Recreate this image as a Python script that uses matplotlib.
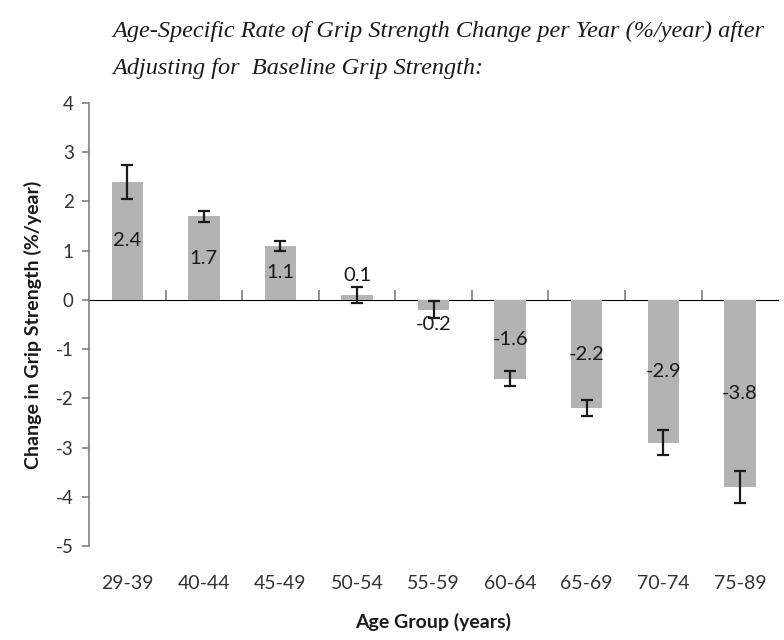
import numpy as np
import matplotlib.pyplot as plt

# age groups and yearly change in grip strength (%/year) with error bar half-widths
age_groups = ['29-39', '40-44', '45-49', '50-54', '55-59', '60-64', '65-69', '70-74', '75-89']
change = [2.4, 1.7, 1.1, 0.1, -0.2, -1.6, -2.2, -2.9, -3.8]
err = [0.35, 0.11, 0.10, 0.16, 0.17, 0.16, 0.16, 0.25, 0.32]

title = ('Age-Specific Rate of Grip Strength Change per Year (%/year) after\n'
         'Adjusting for  Baseline Grip Strength:')

plt.rcParams['axes.unicode_minus'] = False
sans = ['Lato', 'DejaVu Sans']
txt_col = '#333333'
axis_col = '#808080'

fig = plt.figure(figsize=(7.84, 6.4), dpi=100)
ax = fig.add_axes([0.1135, 0.147, 0.879, 0.692])

x = np.arange(len(age_groups))
ax.bar(x, change, width=0.41, color='#b3b3b3', zorder=2)
ax.errorbar(x, change, yerr=err, fmt='none', ecolor='#1a1a1a',
            elinewidth=1.6, capsize=4.5, capthick=1.6, zorder=3)

# value labels sit at mid-bar, pushed out a bit for the short bars
for xi, v in zip(x, change):
    ypos = np.sign(v) * max(abs(v) / 2, 0.5)
    ax.text(xi, ypos, f'{v:.1f}', ha='center', va='center',
            fontsize=14.5, family=sans, color='#1a1a1a', zorder=4)

ax.set_xlim(-0.5, len(age_groups) - 0.5)
ax.set_ylim(-5, 4)
ax.set_yticks(range(-5, 5))
ax.tick_params(axis='y', labelsize=13.5, labelcolor=txt_col, color=axis_col,
               length=5, width=1.2, pad=6)
for lab in ax.get_yticklabels():
    lab.set_family(sans)

ax.set_xticks(x)
ax.set_xticklabels(age_groups)
ax.tick_params(axis='x', length=0, labelsize=14, labelcolor=txt_col, pad=21)
for lab in ax.get_xticklabels():
    lab.set_family(sans)

for side in ['top', 'right', 'bottom']:
    ax.spines[side].set_visible(False)
ax.spines['left'].set_color(axis_col)
ax.spines['left'].set_linewidth(1.2)

# zero line with boundary ticks between groups
zero_pos = (0 - (-5)) / (4 - (-5))
zx = ax.secondary_xaxis(zero_pos)
zx.set_xticks(np.arange(0.5, len(age_groups) - 0.5, 1.0))
zx.set_xticklabels([])
zx.tick_params(axis='x', direction='out', length=7, width=1.2, color=axis_col)
zx.spines['bottom'].set_color(axis_col)
zx.spines['bottom'].set_linewidth(1.2)

ax.set_ylabel('Change in Grip Strength (%/year)', fontsize=14, fontweight='bold',
              family=sans, color='#1a1a1a', labelpad=10)
ax.set_xlabel('Age Group (years)', fontsize=14, fontweight='bold',
              family=sans, color='#1a1a1a', labelpad=15)

fig.text(0.143, 0.968, title, ha='left', va='top', fontsize=17.5, style='italic',
         family=['Liberation Serif', 'DejaVu Serif'], color='#1a1a1a', linespacing=2.05)

fig.savefig('out.png', dpi=100)
